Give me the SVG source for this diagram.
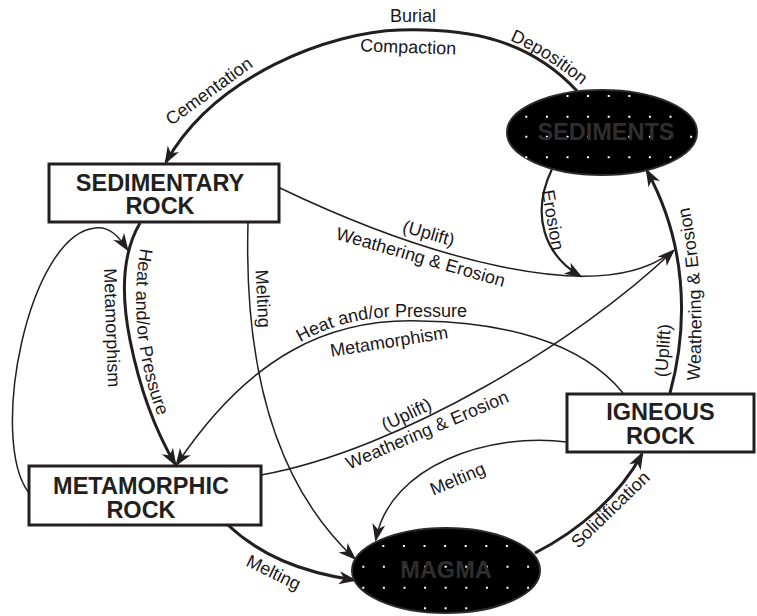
<svg xmlns="http://www.w3.org/2000/svg" width="757" height="616" viewBox="0 0 757 616">
<defs>
<style>
.lbl{font-family:"Liberation Sans",Arial,sans-serif;font-size:18px;fill:#1a1718}
.mc{text-anchor:middle}
.nd{font-family:"Liberation Sans",Arial,sans-serif;font-size:23.5px;font-weight:bold;fill:#231f20;text-anchor:middle}
.el{font-family:"Liberation Sans",Arial,sans-serif;font-size:23.5px;font-weight:bold;fill:#2e2e2e;text-anchor:middle}
.box{fill:#fff;stroke:#231f20;stroke-width:3}
.blob{fill:#000;stroke:#2a2a2a;stroke-width:2}
.dots{stroke:#fff;stroke-width:2;stroke-dasharray:2 18.6;fill:none}
.thick{fill:none;stroke:#231f20;stroke-width:3}
.mid{fill:none;stroke:#231f20;stroke-width:2.2}
.thin{fill:none;stroke:#231f20;stroke-width:1.5}
</style>
<marker id="ah" viewBox="-16 -7 19 14" refX="0" refY="0" markerWidth="19" markerHeight="14" markerUnits="userSpaceOnUse" orient="auto">
<path d="M3,0 L-15,-6.5 L-10,0 L-15,6.5 Z" fill="#231f20"/>
</marker>
<path id="tp-dep" d="M 509 40 Q 545 55 585 88"/>
<path id="tp-heat-v" d="M 141 246 Q 126 330 157 414"/>
<path id="tp-heat-m" d="M 296 345 C 325 327, 360 317, 400 316.5 L 485 316.5"/>
<path id="tp-we-r" d="M 699 384 Q 707 288 688 200"/>
</defs>
<rect width="757" height="616" fill="#fff"/>

<g id="connectors">
<path class="thick" marker-end="url(#ah)" d="M 577 91 C 530 40, 470 28, 400 30 C 330 32, 215 75, 166 162"/>
<path class="mid" marker-end="url(#ah)" d="M 552 169 C 530 215, 545 255, 580 276"/>
<path class="thin" d="M 280 188 C 420 255, 600 310, 673 251"/>
<path class="thin" marker-end="url(#ah)" d="M 261 475 C 400 450, 580 340, 673 251"/>
<path class="thick" marker-end="url(#ah)" d="M 140 223 C 124 250, 120 290, 130 340 C 140 390, 155 430, 175 464"/>
<path class="thin" marker-end="url(#ah)" d="M 29 493 C -12 440, 28 235, 95 228 C 110 226, 119 237, 127 249"/>
<path class="thin" marker-end="url(#ah)" d="M 248 223 C 245 330, 260 470, 354 558"/>
<path class="thick" marker-end="url(#ah)" d="M 228 525 C 260 555, 300 572, 354 580"/>
<path class="thin" marker-end="url(#ah)" d="M 623 393 C 580 340, 500 322, 420 321 C 330 318, 250 355, 177 464"/>
<path class="thick" marker-end="url(#ah)" d="M 670 393 C 690 320, 685 240, 647 171"/>
<path class="thick" marker-end="url(#ah)" d="M 535 553 C 580 530, 620 495, 642 454"/>
<path class="thin" marker-end="url(#ah)" d="M 567 442 C 490 432, 390 465, 376 539"/>
</g>

<g id="labels">
<text class="lbl mc" x="413" y="22">Burial</text>
<text class="lbl mc" transform="translate(408,53) rotate(2)">Compaction</text>
<text class="lbl"><textPath href="#tp-dep" startOffset="1">Deposition</textPath></text>
<text class="lbl mc" transform="translate(212.5,96) rotate(-36)">Cementation</text>
<text class="lbl mc" transform="translate(547,221) rotate(80)">Erosion</text>
<text class="lbl mc" transform="translate(427,239) rotate(16)">(Uplift)</text>
<text class="lbl mc" transform="translate(419,263) rotate(16)">Weathering &amp; Erosion</text>
<text class="lbl"><textPath href="#tp-heat-v" startOffset="2">Heat and/or Pressure</textPath></text>
<text class="lbl mc" transform="translate(106,328) rotate(88)">Metamorphism</text>
<text class="lbl mc" transform="translate(257,299) rotate(87)">Melting</text>
<text class="lbl"><textPath href="#tp-heat-m" startOffset="5">Heat and/or Pressure</textPath></text>
<text class="lbl mc" transform="translate(390,347.5) rotate(-9)">Metamorphism</text>
<text class="lbl mc" transform="translate(409,420) rotate(-25)">(Uplift)</text>
<text class="lbl mc" transform="translate(429.5,435.5) rotate(-23)">Weathering &amp; Erosion</text>
<text class="lbl mc" transform="translate(669,351) rotate(-86)">(Uplift)</text>
<text class="lbl"><textPath href="#tp-we-r" startOffset="3">Weathering &amp; Erosion</textPath></text>
<text class="lbl mc" transform="translate(460,484.5) rotate(-23)">Melting</text>
<text class="lbl mc" transform="translate(271,578) rotate(26)">Melting</text>
<text class="lbl mc" transform="translate(614.5,514) rotate(-44)">Solidification</text>
</g>

<g id="sedimentary-rock">
<rect class="box" x="49" y="164" width="230" height="58"/>
<text class="nd" x="160" y="190.5">SEDIMENTARY</text>
<text class="nd" x="160" y="214">ROCK</text>
</g>

<g id="metamorphic-rock">
<rect class="box" x="29" y="466" width="232" height="59"/>
<text class="nd" x="141" y="494">METAMORPHIC</text>
<text class="nd" x="141" y="518">ROCK</text>
</g>

<g id="igneous-rock">
<rect class="box" x="567" y="394" width="187" height="58"/>
<text class="nd" x="660.5" y="420">IGNEOUS</text>
<text class="nd" x="660.5" y="444">ROCK</text>
</g>

<g id="sediments">
<ellipse class="blob" cx="602" cy="132.5" rx="95" ry="42.5"/>
<line class="dots" x1="566.5" y1="96" x2="632" y2="96"/>
<line class="dots" x1="525.3" y1="116.7" x2="673" y2="116.7"/>
<line class="dots" x1="525.3" y1="136.7" x2="693.5" y2="136.7"/>
<line class="dots" x1="525.3" y1="157.3" x2="673" y2="157.3"/>
<text class="el" x="606" y="140">SEDIMENTS</text>
</g>

<g id="magma">
<ellipse class="blob" cx="446" cy="570.5" rx="94" ry="42.5"/>
<line class="dots" x1="382.3" y1="546" x2="510" y2="546"/>
<line class="dots" x1="362.3" y1="566.7" x2="530" y2="566.7"/>
<line class="dots" x1="362.3" y1="587.7" x2="530" y2="587.7"/>
<line class="dots" x1="424" y1="608.3" x2="468" y2="608.3"/>
<text class="el" x="446" y="577.5">MAGMA</text>
</g>
</svg>
